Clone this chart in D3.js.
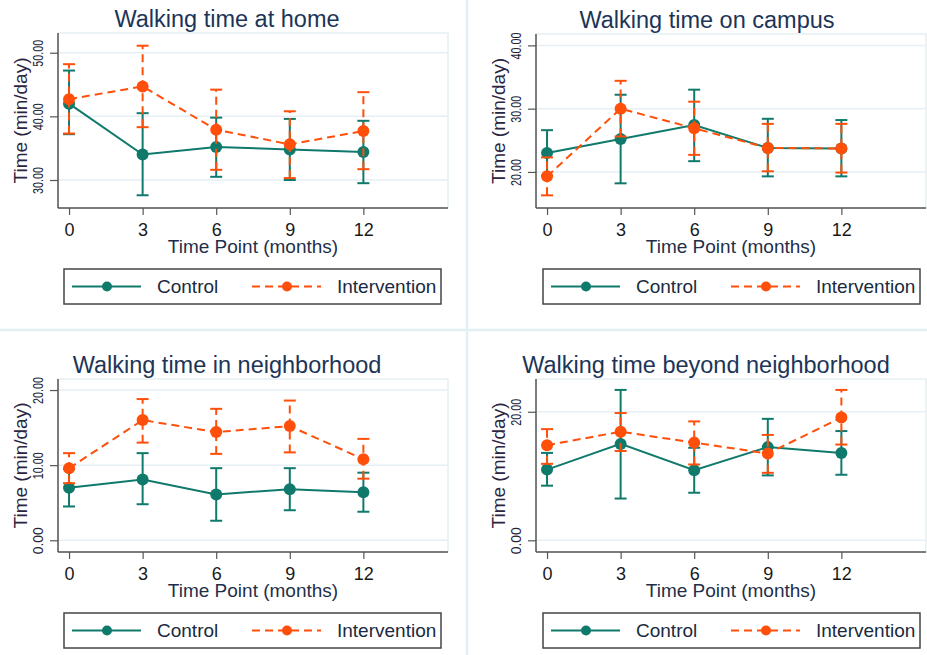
<!DOCTYPE html>
<html>
<head>
<meta charset="utf-8">
<script src="https://cdn.jsdelivr.net/npm/d3@7"></script>
<style>
  body { margin: 0; background: #fff; }
  text { font-family: "Liberation Sans", Arial, sans-serif; }
</style>
</head>
<body>
<div id="chart"></div>
<script>
const width = 927
const height = 655

const months = [0, 3, 6, 9, 12]
const seriesNames = ["Control", "Intervention"]

// walking time at home
const homeCtrl = [42.0, 34.0, 35.2, 34.8, 34.4]
const homeCtrlLo = [37.2, 27.6, 30.5, 30.0, 29.5]
const homeCtrlHi = [47.2, 40.5, 39.8, 39.6, 39.3]
const homeInt = [42.7, 44.7, 37.9, 35.6, 37.7]
const homeIntLo = [37.3, 38.3, 31.6, 30.3, 31.7]
const homeIntHi = [48.2, 51.1, 44.2, 40.8, 43.8]

// on campus
const campusCtrl = [23.0, 25.2, 27.4, 23.8, 23.7]
const campusCtrlLo = [19.4, 18.2, 21.7, 19.3, 19.3]
const campusCtrlHi = [26.6, 32.2, 33.0, 28.4, 28.2]
const campusInt = [19.3, 30.0, 26.9, 23.8, 23.7]
const campusIntLo = [16.3, 25.6, 22.7, 20.1, 19.9]
const campusIntHi = [22.3, 34.4, 31.1, 27.6, 27.6]

// in neighborhood
const nbhdCtrl = [7.0, 8.1, 6.1, 6.8, 6.4]
const nbhdCtrlLo = [4.5, 4.8, 2.6, 4.0, 3.8]
const nbhdCtrlHi = [9.5, 11.6, 9.6, 9.6, 9.0]
const nbhdInt = [9.6, 16.0, 14.4, 15.2, 10.8]
const nbhdIntLo = [7.6, 13.0, 11.5, 11.7, 8.2]
const nbhdIntHi = [11.6, 18.8, 17.5, 18.6, 13.5]

// beyond neighborhood
const beyondCtrl = [11.0, 15.0, 10.9, 14.5, 13.6]
const beyondCtrlLo = [8.5, 6.5, 7.4, 10.1, 10.2]
const beyondCtrlHi = [13.6, 23.4, 14.4, 18.9, 17.0]
const beyondInt = [14.8, 16.9, 15.2, 13.5, 19.1]
const beyondIntLo = [11.9, 13.9, 11.8, 10.5, 14.9]
const beyondIntHi = [17.3, 19.8, 18.5, 16.4, 23.4]

const teal = "#0f7a6b"
const orange = "#ff4f0a"
const navy = "#1c3557"

// panel layout (plot region in page pixels)
const panels = [
  { title: "Walking time at home", box: [58, 448, 33, 208], yDom: [25.6, 53.1], ticks: [30, 40, 50],
    ctrl: [homeCtrl, homeCtrlLo, homeCtrlHi], int: [homeInt, homeIntLo, homeIntHi], titleX: 227, legend: [64, 269] },
  { title: "Walking time on campus", box: [536, 926, 34, 208], yDom: [14.3, 41.8], ticks: [20, 30, 40],
    ctrl: [campusCtrl, campusCtrlLo, campusCtrlHi], int: [campusInt, campusIntLo, campusIntHi], titleX: 707, legend: [543, 269] },
  { title: "Walking time in neighborhood", box: [58, 448, 379, 552], yDom: [-1.56, 21.47], ticks: [0, 10, 20],
    ctrl: [nbhdCtrl, nbhdCtrlLo, nbhdCtrlHi], int: [nbhdInt, nbhdIntLo, nbhdIntHi], titleX: 227, legend: [64, 613] },
  { title: "Walking time beyond neighborhood", box: [536, 926, 379, 552], yDom: [-1.82, 25.1], ticks: [0, 20],
    ctrl: [beyondCtrl, beyondCtrlLo, beyondCtrlHi], int: [beyondInt, beyondIntLo, beyondIntHi], titleX: 706, legend: [543, 613] },
]

const svg = d3.select("#chart")
  .append("svg")
  .attr("width", width)
  .attr("height", height)

svg.append("rect").attr("width", width).attr("height", height).attr("fill", "#fff")

// light separators between the combined graphs
svg.append("line").attr("x1", 467).attr("x2", 467).attr("y1", 0).attr("y2", height)
  .attr("stroke", "#e3f0f3").attr("stroke-width", 2.5)
svg.append("line").attr("x1", 0).attr("x2", width).attr("y1", 330).attr("y2", 330)
  .attr("stroke", "#e3f0f3").attr("stroke-width", 2.5)

panels.forEach(p => {
  const [left, right, top, bottom] = p.box
  const g = svg.append("g")

  const x = d3.scaleLinear().domain([-0.45, 15.45]).range([left, right])
  const y = d3.scaleLinear().domain(p.yDom).range([bottom, top])

  // plot region outline
  g.append("rect")
    .attr("x", left).attr("y", top)
    .attr("width", right - left).attr("height", bottom - top)
    .attr("fill", "none").attr("stroke", "#e6eff5").attr("stroke-width", 1.5)

  // gridlines
  g.selectAll(".grid").data(p.ticks).join("line")
    .attr("x1", left).attr("x2", right)
    .attr("y1", d => y(d)).attr("y2", d => y(d))
    .attr("stroke", "#e6eff5").attr("stroke-width", 1.5)

  // y axis
  const yAxis = g.append("g")
    .attr("transform", `translate(${left},0)`)
    .call(d3.axisLeft(y).tickValues(p.ticks).tickSize(8).tickFormat(d3.format(".2f")))
  yAxis.select(".domain").attr("stroke", "#555").attr("stroke-width", 1.5)
    .attr("d", `M0,${top}V${bottom}`)
  yAxis.selectAll(".tick line").attr("stroke", "#555").attr("stroke-width", 1.2)
  yAxis.selectAll(".tick text")
    .attr("x", null).attr("dy", null)
    .attr("transform", "translate(-15,0) rotate(-90)")
    .attr("text-anchor", "middle")
    .attr("font-size", 15)
    .attr("textLength", 27).attr("lengthAdjust", "spacingAndGlyphs")
    .attr("fill", "#222233")

  // x axis
  const xAxis = g.append("g")
    .attr("transform", `translate(0,${bottom})`)
    .call(d3.axisBottom(x).tickValues(months).tickSize(7).tickFormat(d3.format("d")))
  xAxis.select(".domain").attr("stroke", "#555").attr("stroke-width", 1.5)
    .attr("d", `M${left},0H${right}`)
  xAxis.selectAll(".tick line").attr("stroke", "#555").attr("stroke-width", 1.2)
  xAxis.selectAll(".tick text")
    .attr("y", 28).attr("dy", null)
    .attr("font-size", 18).attr("fill", "#1a1a1a")

  // axis titles
  g.append("text")
    .attr("x", (left + right) / 2).attr("y", bottom + 45)
    .attr("text-anchor", "middle").attr("font-size", 19).attr("fill", "#1f2f4a")
    .text("Time Point (months)")
  g.append("text")
    .attr("transform", `translate(${left - 31},${(top + bottom) / 2}) rotate(-90)`)
    .attr("text-anchor", "middle").attr("font-size", 19).attr("fill", "#2a2540")
    .text("Time (min/day)")

  // title
  g.append("text")
    .attr("x", p.titleX).attr("y", top - 6)
    .attr("text-anchor", "middle").attr("font-size", 23.5).attr("fill", navy)
    .text(p.title)

  // series
  const drawSeries = (vals, color, dash) => {
    const [mean, lo, hi] = vals
    const pts = months.map((m, i) => ({ m: m, v: mean[i], lo: lo[i], hi: hi[i] }))
    const cap = 6
    const ci = g.append("g").attr("stroke", color).attr("stroke-width", 2)
    ci.selectAll(".bar").data(pts).join("line")
      .attr("x1", d => x(d.m)).attr("x2", d => x(d.m))
      .attr("y1", d => y(d.lo)).attr("y2", d => y(d.hi))
      .attr("stroke-dasharray", dash)
    ci.selectAll(".capLo").data(pts).join("line")
      .attr("x1", d => x(d.m) - cap).attr("x2", d => x(d.m) + cap)
      .attr("y1", d => y(d.lo)).attr("y2", d => y(d.lo))
    ci.selectAll(".capHi").data(pts).join("line")
      .attr("x1", d => x(d.m) - cap).attr("x2", d => x(d.m) + cap)
      .attr("y1", d => y(d.hi)).attr("y2", d => y(d.hi))

    g.append("path").datum(pts)
      .attr("fill", "none").attr("stroke", color).attr("stroke-width", 2)
      .attr("stroke-dasharray", dash)
      .attr("d", d3.line().x(d => x(d.m)).y(d => y(d.v)))

    g.selectAll(null).data(pts).join("circle")
      .attr("cx", d => x(d.m)).attr("cy", d => y(d.v))
      .attr("r", 6).attr("fill", color)
  }
  drawSeries(p.ctrl, teal, null)
  drawSeries(p.int, orange, "8,5")

  // legend
  const [lx, ly] = p.legend
  const lg = g.append("g").attr("transform", `translate(${lx},${ly})`)
  lg.append("rect").attr("width", 377).attr("height", 35)
    .attr("fill", "#fff").attr("stroke", "#444").attr("stroke-width", 1.5)
  const items = [
    { name: seriesNames[0], color: teal, dash: null, x0: 8 },
    { name: seriesNames[1], color: orange, dash: "8,5", x0: 188 },
  ]
  items.forEach(it => {
    lg.append("line").attr("x1", it.x0).attr("x2", it.x0 + 69)
      .attr("y1", 17.5).attr("y2", 17.5)
      .attr("stroke", it.color).attr("stroke-width", 2).attr("stroke-dasharray", it.dash)
    lg.append("circle").attr("cx", it.x0 + 35).attr("cy", 17.5).attr("r", 5).attr("fill", it.color)
    lg.append("text").attr("x", it.x0 + 85).attr("y", 24)
      .attr("font-size", 19).attr("fill", "#1a2a40").text(it.name)
  })
})
</script>
</body>
</html>
